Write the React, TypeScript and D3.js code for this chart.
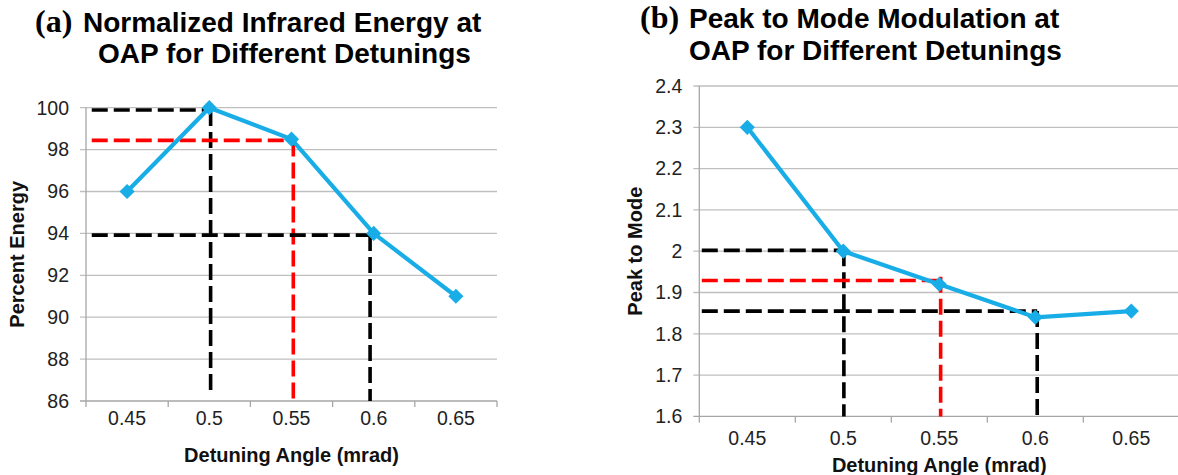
import React from "react";
import * as d3 from "d3";

// ---------- data ----------
const angles = [0.45, 0.5, 0.55, 0.6, 0.65];
const angleLabels = ["0.45", "0.5", "0.55", "0.6", "0.65"];
const bandEdges = [0.425, 0.475, 0.525, 0.575, 0.625, 0.675];

const energy = [96, 100, 98.5, 94, 91];
const energyTicks = [86, 88, 90, 92, 94, 96, 98, 100];

const peakToMode = [2.3, 2.0, 1.92, 1.84, 1.855];
const ptmTicks = [1.6, 1.7, 1.8, 1.9, 2.0, 2.1, 2.2, 2.3, 2.4];
const ptmTickLabels = ["1.6", "1.7", "1.8", "1.9", "2", "2.1", "2.2", "2.3", "2.4"];

type Guide = { x1: number; y1: number; x2: number; y2: number; color: string };

const energyGuides: Guide[] = [
  { x1: 0.4285, y1: 99.89, x2: 0.5, y2: 99.89, color: "#000" },
  { x1: 0.5008, y1: 99.89, x2: 0.5008, y2: 86.4, color: "#000" },
  { x1: 0.4285, y1: 98.44, x2: 0.5505, y2: 98.44, color: "#ff0000" },
  { x1: 0.5511, y1: 98.44, x2: 0.5511, y2: 86, color: "#ff0000" },
  { x1: 0.4285, y1: 93.92, x2: 0.598, y2: 93.92, color: "#000" },
  { x1: 0.5978, y1: 93.92, x2: 0.5978, y2: 86, color: "#000" },
];

const ptmGuides: Guide[] = [
  { x1: 0.4263, y1: 2.002, x2: 0.5003, y2: 2.002, color: "#000" },
  { x1: 0.5003, y1: 2.002, x2: 0.5003, y2: 1.6, color: "#000" },
  { x1: 0.4263, y1: 1.929, x2: 0.5507, y2: 1.929, color: "#ff0000" },
  { x1: 0.5507, y1: 1.938, x2: 0.5507, y2: 1.6, color: "#ff0000" },
  { x1: 0.4263, y1: 1.855, x2: 0.601, y2: 1.855, color: "#000" },
  { x1: 0.601, y1: 1.855, x2: 0.601, y2: 1.6, color: "#000" },
];

// ---------- styles ----------
const SANS = "'Liberation Sans', Arial, Helvetica, sans-serif";
const SERIF = "'Liberation Serif', 'Times New Roman', serif";
const BLUE = "#18ade6";
const GRID = "#bfbfbf";
const AXIS = "#a6a6a6";

type PanelProps = {
  values: number[];
  yTicks: number[];
  yTickLabels: string[];
  yDomain: [number, number];
  guides: Guide[];
  left: number;
  right: number;
  top: number;
  bottom: number;
  gridRight: number;
  yTitle: string;
  yTitleX: number;
  xTickBaseline: number;
  xTitleBaseline: number;
};

function Panel(p: PanelProps) {
  const x = d3.scaleLinear().domain([0.425, 0.675]).range([p.left, p.right]);
  const y = d3.scaleLinear().domain(p.yDomain).range([p.bottom, p.top]);
  const line = d3
    .line<number>()
    .x((_, i) => x(angles[i]))
    .y((d) => y(d));
  const diamond = d3.symbol().type(d3.symbolSquare).size(115)();
  const midY = (p.top + p.bottom) / 2;
  const midX = (p.left + p.right) / 2;
  return (
    <g>
      {/* gridlines + y ticks */}
      {p.yTicks.map((t, i) => (
        <g key={"g" + i}>
          <line
            x1={p.left - 6}
            x2={p.gridRight}
            y1={y(t)}
            y2={y(t)}
            stroke={i === 0 ? AXIS : GRID}
            strokeWidth={1.3}
          />
          <text
            x={p.left - 17}
            y={y(t)}
            dy="0.35em"
            textAnchor="end"
            fontFamily={SANS}
            fontSize={19.5}
            fill="#222"
          >
            {p.yTickLabels[i]}
          </text>
        </g>
      ))}
      {/* y axis line */}
      <line x1={p.left} x2={p.left} y1={p.top} y2={p.bottom} stroke={AXIS} strokeWidth={1.3} />
      {/* x ticks */}
      {bandEdges.map((b, i) => (
        <line key={"t" + i} x1={x(b)} x2={x(b)} y1={p.bottom} y2={p.bottom + 6} stroke={AXIS} strokeWidth={1.3} />
      ))}
      {angles.map((a, i) => (
        <text
          key={"xl" + i}
          x={x(a)}
          y={p.xTickBaseline}
          textAnchor="middle"
          fontFamily={SANS}
          fontSize={19.5}
          fill="#222"
        >
          {angleLabels[i]}
        </text>
      ))}
      {/* guides */}
      {p.guides.map((g, i) => (
        <line
          key={"d" + i}
          x1={x(g.x1)}
          x2={x(g.x2)}
          y1={y(g.y1)}
          y2={y(g.y2)}
          stroke={g.color}
          strokeWidth={3.6}
          strokeDasharray="16 6"
        />
      ))}
      {/* series */}
      <path d={line(p.values) || ""} fill="none" stroke={BLUE} strokeWidth={4.2} strokeLinejoin="round" />
      {p.values.map((v, i) => (
        <path
          key={"m" + i}
          d={diamond || ""}
          transform={`translate(${x(angles[i])},${y(v)}) rotate(45)`}
          fill={BLUE}
        />
      ))}
      {/* axis titles */}
      <text
        transform={`translate(${p.yTitleX},${midY}) rotate(-90)`}
        textAnchor="middle"
        fontFamily={SANS}
        fontWeight="bold"
        fontSize={20}
        fill="#111"
      >
        {p.yTitle}
      </text>
      <text
        x={midX}
        y={p.xTitleBaseline}
        textAnchor="middle"
        fontFamily={SANS}
        fontWeight="bold"
        fontSize={20}
        fill="#111"
      >
        Detuning Angle (mrad)
      </text>
    </g>
  );
}

export default function App() {
  return (
    <svg
      width={1178}
      height={475}
      style={{ position: "absolute", left: 0, top: 0, background: "#fff" }}
    >
      <rect width={1178} height={475} fill="#fff" />
      {/* panel (a) title */}
      <text x={35} y={32} fontFamily={SERIF} fontWeight="bold" fontSize={32} fill="#000">
        (a)
      </text>
      <text x={83} y={32} fontFamily={SANS} fontWeight="bold" fontSize={28} fill="#000">
        Normalized Infrared Energy at
      </text>
      <text x={98} y={63} fontFamily={SANS} fontWeight="bold" fontSize={28} fill="#000">
        OAP for Different Detunings
      </text>
      {/* panel (b) title */}
      <text x={640} y={28} fontFamily={SERIF} fontWeight="bold" fontSize={32} fill="#000">
        (b)
      </text>
      <text x={689} y={28} fontFamily={SANS} fontWeight="bold" fontSize={28} fill="#000">
        Peak to Mode Modulation at
      </text>
      <text x={689} y={60} fontFamily={SANS} fontWeight="bold" fontSize={28} fill="#000">
        OAP for Different Detunings
      </text>

      <Panel
        values={energy}
        yTicks={energyTicks}
        yTickLabels={energyTicks.map(String)}
        yDomain={[86, 100]}
        guides={energyGuides}
        left={86}
        right={497}
        top={107.7}
        bottom={401}
        gridRight={497}
        yTitle="Percent Energy"
        yTitleX={24}
        xTickBaseline={425}
        xTitleBaseline={462}
      />
      <Panel
        values={peakToMode}
        yTicks={ptmTicks}
        yTickLabels={ptmTickLabels}
        yDomain={[1.6, 2.4]}
        guides={ptmGuides}
        left={699.3}
        right={1179.3}
        top={86}
        bottom={416.4}
        gridRight={1180}
        yTitle="Peak to Mode"
        yTitleX={642}
        xTickBaseline={445}
        xTitleBaseline={472}
      />
    </svg>
  );
}
